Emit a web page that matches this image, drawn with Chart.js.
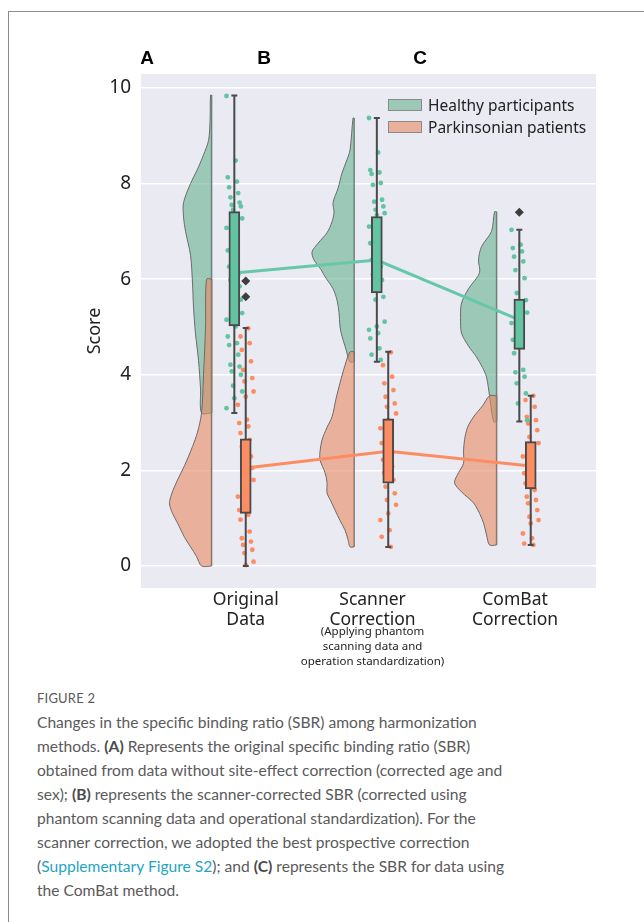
<!DOCTYPE html>
<html>
<head>
<meta charset="utf-8">
<script src="https://cdn.jsdelivr.net/npm/chart.js@4"></script>
<style>
  body { margin: 0; background: #fff; font-family: "Noto Sans", sans-serif; }
  #page { position: relative; width: 644px; height: 922px; overflow: hidden; }
  #frame { position: absolute; left: 8px; top: 11px; right: -2px; bottom: -2px; border-left: 1px solid #8c8c8c; border-top: 1px solid #8c8c8c; }
  #chartBox { position: absolute; left: 0; top: 0; width: 644px; height: 680px; }
  .panel { position: absolute; top: 47px; font: bold 19px "Liberation Sans", Arial, sans-serif; color: #000; transform: translateX(-50%); }
  #legend { position: absolute; left: 388px; top: 94px; font-size: 15.5px; color: #222; }
  #legend .item { display: flex; align-items: center; height: 22px; }
  #legend .sw { width: 32px; height: 10px; border: 1px solid #8a8a8a; margin-right: 6px; }
  #caption { position: absolute; left: 37px; top: 690px; width: 600px; color: #5a5a5a; font-family: Lato, sans-serif; }
  #caption .fig { font-size: 13px; letter-spacing: 0.2px; margin-bottom: 4px; }
  #caption p { margin: 0; font-size: 15.6px; line-height: 24px; white-space: nowrap; }
  #caption b { color: #4a4a4a; }
  #caption a { color: #1fa4c4; text-decoration: none; }
</style>
</head>
<body>
<div id="page">
  <div id="frame"></div>
  <div id="chartBox"><canvas id="chart"></canvas></div>
  <div class="panel" style="left:147px">A</div>
  <div class="panel" style="left:264px">B</div>
  <div class="panel" style="left:420px">C</div>
  <div id="legend">
    <div class="item"><span class="sw" style="background:rgba(104,177,145,0.6)"></span>Healthy participants</div>
    <div class="item"><span class="sw" style="background:rgba(231,137,97,0.6)"></span>Parkinsonian patients</div>
  </div>
  <div id="caption">
    <div class="fig">FIGURE 2</div>
    <p>Changes in the specific binding ratio (SBR) among harmonization<br>
methods. <b>(A)</b> Represents the original specific binding ratio (SBR)<br>
obtained from data without site-effect correction (corrected age and<br>
sex); <b>(B)</b> represents the scanner-corrected SBR (corrected using<br>
phantom scanning data and operational standardization). For the<br>
scanner correction, we adopted the best prospective correction<br>
(<a>Supplementary Figure S2</a>); and <b>(C)</b> represents the SBR for data using<br>
the ComBat method.</p>
  </div>
</div>
<script>
// categories / labels
const groupLabels = [["Original", "Data"], ["Scanner", "Correction"], ["ComBat", "Correction"]];
const labelPositions = [0.04, 0.93, 1.93];
const scannerNote = ["(Applying phantom", "scanning data and", "operation standardization)"];
const yTicks = [0, 2, 4, 6, 8, 10];

// box statistics per method (Original, Scanner, ComBat)
const healthyWhiskerLow = [3.2, 4.27, 3.02];
const healthyQ1 = [5.02, 5.71, 4.53];
const healthyMedian = [6.13, 6.4, 5.15];
const healthyQ3 = [7.41, 7.31, 5.58];
const healthyWhiskerHigh = [9.84, 9.37, 7.03];
const healthyOutliers = [[5.96, 5.63], [], [7.4]];

const pdWhiskerLow = [0.0, 0.4, 0.44];
const pdQ1 = [1.1, 1.73, 1.61];
const pdMedian = [2.05, 2.4, 2.09];
const pdQ3 = [2.66, 3.08, 2.6];
const pdWhiskerHigh = [4.98, 4.48, 3.56];

// raw scores (rain)
const healthyA = [9.83, 8.48, 8.13, 8.04, 7.92, 7.8, 7.71, 7.6, 7.55, 7.52, 7.45, 7.27, 7.17, 7.07, 6.82, 6.6, 6.4, 6.26, 6.1, 5.98, 5.85, 5.7, 5.57, 5.4, 5.29, 5.22, 5.15, 5.01, 4.8, 4.66, 4.62, 4.42, 4.21, 4.17, 4.07, 4.0, 3.77, 3.65, 3.51, 3.3];
const pdA = [4.97, 4.8, 4.66, 4.52, 4.28, 4.1, 3.93, 3.86, 3.65, 3.54, 3.37, 3.06, 2.99, 2.92, 2.78, 2.64, 2.5, 2.29, 2.15, 2.05, 1.94, 1.8, 1.6, 1.45, 1.24, 1.17, 1.07, 0.97, 0.72, 0.58, 0.51, 0.44, 0.34, 0.27, 0.09, 0.02];
const healthyB = [9.37, 8.65, 8.28, 8.23, 8.2, 8.01, 7.97, 7.66, 7.62, 7.52, 7.45, 7.38, 7.34, 7.1, 6.96, 6.75, 6.54, 6.4, 6.26, 6.1, 5.98, 5.8, 5.63, 5.57, 5.11, 5.01, 4.94, 4.87, 4.76, 4.55, 4.42, 4.31];
const pdB = [4.47, 4.2, 3.96, 3.82, 3.68, 3.54, 3.4, 3.33, 3.19, 3.05, 2.88, 2.78, 2.57, 2.36, 2.22, 2.08, 1.95, 1.8, 1.66, 1.52, 1.38, 1.28, 1.1, 0.96, 0.75, 0.61, 0.4];
const healthyC = [7.03, 6.72, 6.65, 6.58, 6.47, 6.37, 6.19, 6.02, 5.71, 5.56, 5.43, 5.3, 5.15, 5.08, 4.9, 4.73, 4.6, 4.45, 4.1, 4.05, 3.96, 3.82, 3.61, 3.4, 3.05];
const pdC = [3.56, 3.47, 3.33, 3.12, 3.05, 2.98, 2.84, 2.7, 2.57, 2.43, 2.29, 2.1, 1.94, 1.85, 1.73, 1.59, 1.45, 1.38, 1.31, 1.17, 1.03, 0.96, 0.89, 0.68, 0.58, 0.47, 0.44];

// half-violin density profiles (score level, relative density)
const healthyViolinA = { levels: [9.85, 9.3, 8.9, 8.6, 8.3, 8.0, 7.6, 7.3, 7.0, 6.5, 5.9, 5.4, 4.85, 4.3, 3.7, 3.2], density: [1, 1.5, 3, 8, 14, 21, 28, 28, 26, 21, 19, 18, 16, 13, 11, 10] };
const pdViolinA = { levels: [6.0, 5.0, 4.0, 3.2, 2.8, 2.5, 2.1, 1.8, 1.5, 1.3, 1.1, 0.9, 0.6, 0.4, 0.2, 0.0], density: [5, 6, 8, 10, 14, 19, 27, 34, 40, 42, 39, 34, 27, 21, 15, 10] };
const healthyViolinB = { levels: [9.37, 8.7, 8.5, 8.22, 7.9, 7.6, 7.4, 7.2, 6.97, 6.75, 6.57, 6.4, 6.2, 6.05, 5.8, 5.56, 5.3, 5.0, 4.8, 4.6, 4.27], density: [1, 4, 7, 12, 16, 21, 20, 22, 27, 36, 42, 40, 33, 29, 21, 17, 15, 14, 12, 9, 4] };
const pdViolinB = { levels: [4.48, 4.2, 3.83, 3.5, 3.12, 2.9, 2.64, 2.4, 2.22, 1.95, 1.75, 1.53, 1.35, 1.17, 0.95, 0.75, 0.55, 0.4], density: [4, 9, 14, 18, 22, 27, 32, 34, 34, 29, 27, 27, 23, 19, 14, 9, 6, 4] };
const healthyViolinC = { levels: [7.41, 7.0, 6.68, 6.4, 6.13, 5.8, 5.5, 5.2, 4.87, 4.6, 4.37, 4.15, 3.95, 3.56, 3.02], density: [2, 5, 15, 18, 17, 28, 35, 36, 35, 28, 20, 14, 10, 7, 3] };
const pdViolinC = { levels: [3.56, 3.35, 3.12, 2.9, 2.64, 2.4, 2.15, 1.95, 1.74, 1.55, 1.32, 1.1, 0.9, 0.65, 0.44], density: [7, 14, 23, 29, 32, 33, 33, 38, 42, 35, 23, 17, 13, 10, 7] };

const healthyRain = [healthyA, healthyB, healthyC];
const pdRain = [pdA, pdB, pdC];
const healthyViolins = [healthyViolinA, healthyViolinB, healthyViolinC];
const pdViolins = [pdViolinA, pdViolinB, pdViolinC];

const colors = {
  healthy: "#62c4a2",
  pd: "#fc8d62",
  healthyViolin: "rgba(104,177,145,0.6)",
  pdViolin: "rgba(231,137,97,0.6)",
  outline: "#6b6b6b",
  box: "#4a4a4a",
  plotBg: "#eaeaf2",
  text: "#222",
};

const HEALTHY_OFFSET = -0.04;
const PD_OFFSET = 0.04;
const VIOLIN_EDGE = -0.2;
const VIOLIN_SCALE = 1 / 142.5;
const CAP = 0.021;

// curved side of the half violin (smoothed) + straight edge drawn separately
function violinCurve(v, g) {
  const edge = g + VIOLIN_EDGE;
  const pts = [{ x: edge, y: v.levels[0] }];
  v.levels.forEach((lv, i) => pts.push({ x: edge - v.density[i] * VIOLIN_SCALE, y: lv }));
  pts.push({ x: edge, y: v.levels[v.levels.length - 1] });
  return pts;
}

function violinEdge(v, g) {
  const edge = g + VIOLIN_EDGE;
  return [{ x: edge, y: v.levels[0] }, { x: edge, y: v.levels[v.levels.length - 1] }];
}

function jitter(i) {
  return (((i * 7) % 13) / 12 - 0.5) * 0.11;
}

function whiskerPath(c, lo, hi) {
  return [
    { x: c, y: lo }, { x: c, y: hi }, { x: c, y: null },
    { x: c - CAP, y: hi }, { x: c + CAP, y: hi }, { x: c, y: null },
    { x: c - CAP, y: lo }, { x: c + CAP, y: lo },
  ];
}

const datasets = [];

[0, 1, 2].forEach((g) => {
  datasets.push({ type: "line", data: violinCurve(healthyViolins[g], g), borderColor: colors.outline, borderWidth: 1,
    backgroundColor: colors.healthyViolin, fill: "shape", pointRadius: 0, tension: 0.3, order: 8 });
  datasets.push({ type: "line", data: violinEdge(healthyViolins[g], g), borderColor: colors.outline, borderWidth: 1.5,
    pointRadius: 0, fill: false, order: 8 });
  datasets.push({ type: "line", data: violinCurve(pdViolins[g], g), borderColor: colors.outline, borderWidth: 1,
    backgroundColor: colors.pdViolin, fill: "shape", pointRadius: 0, tension: 0.3, order: 6 });
  datasets.push({ type: "line", data: violinEdge(pdViolins[g], g), borderColor: colors.outline, borderWidth: 1.5,
    pointRadius: 0, fill: false, order: 6 });

  datasets.push({ type: "scatter", data: healthyRain[g].map((v, i) => ({ x: g + HEALTHY_OFFSET + jitter(i), y: v })),
    backgroundColor: colors.healthy, borderWidth: 0, pointRadius: 2.4, order: 5 });
  datasets.push({ type: "scatter", data: pdRain[g].map((v, i) => ({ x: g + PD_OFFSET + jitter(i + 3), y: v })),
    backgroundColor: colors.pd, borderWidth: 0, pointRadius: 2.4, order: 5 });

  datasets.push({ type: "line", data: whiskerPath(g + HEALTHY_OFFSET, healthyWhiskerLow[g], healthyWhiskerHigh[g]),
    borderColor: colors.box, borderWidth: 2, pointRadius: 0, spanGaps: false, fill: false, order: 3 });
  datasets.push({ type: "line", data: whiskerPath(g + PD_OFFSET, pdWhiskerLow[g], pdWhiskerHigh[g]),
    borderColor: colors.box, borderWidth: 2, pointRadius: 0, spanGaps: false, fill: false, order: 3 });

  datasets.push({ type: "bar", data: [{ x: g + HEALTHY_OFFSET, y: [healthyQ1[g], healthyQ3[g]] }],
    backgroundColor: colors.healthy, borderColor: colors.box, borderWidth: 2, borderSkipped: false,
    barThickness: 11, grouped: false, order: 1 });
  datasets.push({ type: "bar", data: [{ x: g + PD_OFFSET, y: [pdQ1[g], pdQ3[g]] }],
    backgroundColor: colors.pd, borderColor: colors.box, borderWidth: 2, borderSkipped: false,
    barThickness: 11, grouped: false, order: 1 });

  if (healthyOutliers[g].length) {
    const ox = g === 0 ? g + PD_OFFSET : g + HEALTHY_OFFSET;
    datasets.push({ type: "scatter", data: healthyOutliers[g].map((v) => ({ x: ox, y: v })),
      pointStyle: "rectRot", pointRadius: 4.5, backgroundColor: "#3d3d3d", borderWidth: 0, order: 0 });
  }
});

datasets.push({ type: "line", data: healthyMedian.map((m, g) => ({ x: g + HEALTHY_OFFSET, y: m })),
  borderColor: "#66c8a8", borderWidth: 3, pointRadius: 0, fill: false, order: 2 });
datasets.push({ type: "line", data: pdMedian.map((m, g) => ({ x: g + PD_OFFSET, y: m })),
  borderColor: colors.pd, borderWidth: 3, pointRadius: 0, fill: false, order: 2 });

const plotBackground = {
  id: "plotBackground",
  beforeDraw(chart) {
    const { ctx, chartArea: a } = chart;
    ctx.save();
    ctx.fillStyle = colors.plotBg;
    ctx.fillRect(a.left, a.top, a.right - a.left, a.bottom - a.top);
    ctx.restore();
  },
};

const scannerSubtitle = {
  id: "scannerSubtitle",
  afterDraw(chart) {
    const { ctx, scales } = chart;
    const x = scales.x.getPixelForValue(labelPositions[1]);
    ctx.save();
    ctx.fillStyle = colors.text;
    ctx.font = '11.5px "Noto Sans", sans-serif';
    ctx.textAlign = "center";
    ctx.textBaseline = "middle";
    scannerNote.forEach((line, i) => ctx.fillText(line, x, scales.x.top + 44 + i * 15));
    ctx.restore();
  },
};

new Chart(document.getElementById("chart"), {
  type: "line",
  data: { datasets },
  plugins: [plotBackground, scannerSubtitle],
  options: {
    responsive: true,
    maintainAspectRatio: false,
    animation: false,
    layout: { padding: { left: 0, top: 74, right: 48, bottom: 0 } },
    plugins: { legend: { display: false }, tooltip: { enabled: false } },
    scales: {
      x: {
        type: "linear",
        offset: false,
        min: -0.695,
        max: 2.498,
        afterFit: (scale) => { scale.height = 92; },
        afterBuildTicks: (scale) => { scale.ticks = labelPositions.map((v) => ({ value: v })); },
        grid: { display: false, drawTicks: false },
        border: { display: false },
        ticks: {
          padding: 2,
          color: colors.text,
          font: { family: "Noto Sans", size: 17.5, lineHeight: 1.13 },
          maxRotation: 0,
          callback: (v, i) => groupLabels[i],
        },
      },
      y: {
        min: -0.46,
        max: 10.29,
        afterFit: (scale) => { scale.width = 141; },
        afterBuildTicks: (scale) => { scale.ticks = yTicks.map((v) => ({ value: v })); },
        grid: { color: "#ffffff", lineWidth: 1.5, drawTicks: false },
        border: { display: false },
        ticks: { padding: 10, color: colors.text, font: { family: "Noto Sans", size: 19 } },
        title: { display: true, text: "Score", color: colors.text, font: { family: "Noto Sans", size: 18 }, padding: { top: 84, bottom: 0 } },
      },
    },
  },
});
</script>
</body>
</html>
